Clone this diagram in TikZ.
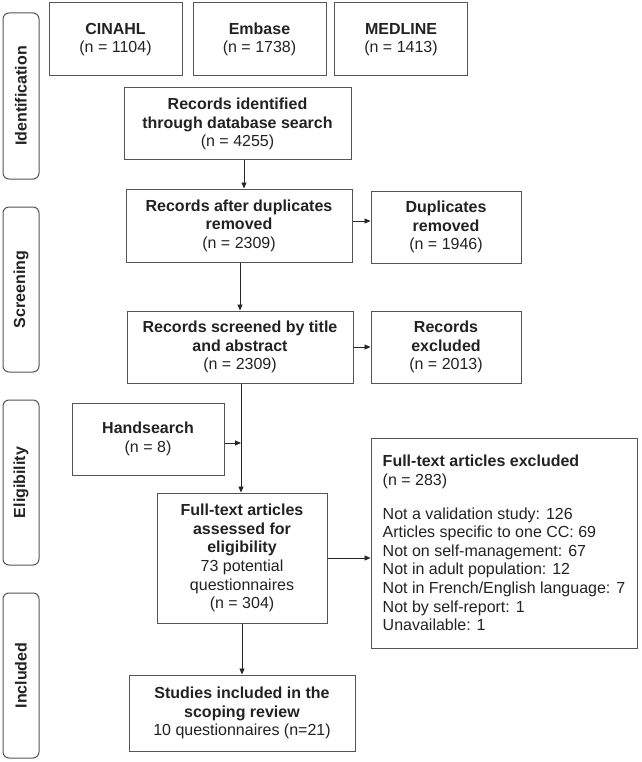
\documentclass[tikz,border=0pt]{standalone}
\usepackage{fontspec}
\setmainfont{Liberation Sans}
\usetikzlibrary{arrows.meta}
\definecolor{linec}{HTML}{555555}
\definecolor{textc}{HTML}{222222}
\tikzset{
  box/.style={draw=linec, line width=1pt, rectangle, align=center, text=textc,
    font=\fontsize{16}{18.6}\selectfont, inner sep=0pt},
  sidelab/.style={draw=linec, line width=1pt, rounded corners=6pt, rotate=90,
    minimum height=36pt, text=textc, font=\fontsize{16}{18.6}\selectfont\bfseries, inner sep=0pt},
  arr/.style={draw=black!85, line width=0.9pt, -{Triangle[length=6pt,width=5pt]}},
  ln/.style={draw=black!85, line width=0.9pt}
}
\begin{document}
\begin{tikzpicture}[x=1pt,y=-1pt]
\useasboundingbox (0,0) rectangle (641,762);
% side labels
\node[sidelab, minimum width=166pt] (lid) at (21,96) {Identification};
\node[sidelab, minimum width=165pt] (lsc) at (21,289.5) {Screening};
\node[sidelab, minimum width=165pt] (lel) at (21,482.5) {Eligibility};
\node[sidelab, minimum width=165pt] (lin) at (21,675.5) {Included};
% databases
\node[box, minimum width=133pt, minimum height=73pt] (cinahl) at (115.5,39.5) {\textbf{CINAHL}\\(n = 1104)};
\node[box, minimum width=133pt, minimum height=73pt] (embase) at (259.5,39.5) {\textbf{Embase}\\(n = 1738)};
\node[box, minimum width=133pt, minimum height=73pt] (medline) at (401,39.5) {\textbf{MEDLINE}\\(n = 1413)};
% main flow
\node[box, minimum width=227pt, minimum height=72pt] (ident) at (237.5,124) {\textbf{Records identified}\\\textbf{through database search}\\(n = 4255)};
\node[box, minimum width=226pt, minimum height=73pt] (afterdup) at (239,225.5) {\textbf{Records after duplicates}\\\textbf{removed}\\(n = 2309)};
\node[box, minimum width=150pt, minimum height=72pt] (dup) at (446,227) {\textbf{Duplicates}\\\textbf{removed}\\(n = 1946)};
\node[box, minimum width=226pt, minimum height=72pt] (screened) at (240,347) {\textbf{Records screened by title}\\\textbf{and abstract}\\(n = 2309)};
\node[box, minimum width=150pt, minimum height=72pt] (excl) at (446,347) {\textbf{Records}\\\textbf{excluded}\\(n = 2013)};
\node[box, minimum width=152pt, minimum height=72pt] (hand) at (148,439) {\textbf{Handsearch}\\(n = 8)};
\node[box, minimum width=170pt, minimum height=130pt] (assessed) at (242,558) {\textbf{Full-text articles}\\\textbf{assessed for}\\\textbf{eligibility}\\73 potential\\questionnaires\\(n = 304)};
\node[box, align=left, minimum width=266pt, minimum height=210pt] (ftexcl) at (504,543) {\textbf{Full-text articles excluded}\\(n = 283)\\[15.3pt]Not a validation study: 126\\Articles specific to one CC: 69\\Not on self-management: 67\\Not in adult population: 12\\Not in French/English language: 7\\Not by self-report: 1\\Unavailable: 1};
\node[box, minimum width=226pt, minimum height=76pt] (studies) at (242,713) {\textbf{Studies included in the}\\\textbf{scoping review}\\10 questionnaires (n=21)};
% connectors
\draw[arr] ([xshift=6.5pt]ident.south) -- ([xshift=5pt]afterdup.north);
\draw[arr] ([yshift=4.5pt]afterdup.east) -- ([yshift=4.5pt]afterdup.east -| dup.west);
\draw[arr] ([xshift=1pt]afterdup.south) -- ([xshift=1pt]afterdup.south |- screened.north);
\draw[arr] (screened.east) -- (screened.east -| excl.west);
\coordinate (s1) at ([xshift=1pt]screened.south);
\draw[arr] (s1) -- (s1 |- assessed.north);
\draw[arr] ([yshift=-4pt]hand.east) -- ([yshift=-4pt]hand.east -| s1);
\draw[arr] (assessed.east) -- (assessed.east -| ftexcl.west);
\draw[arr] (assessed.south) -- (studies.north);
\end{tikzpicture}
\end{document}
